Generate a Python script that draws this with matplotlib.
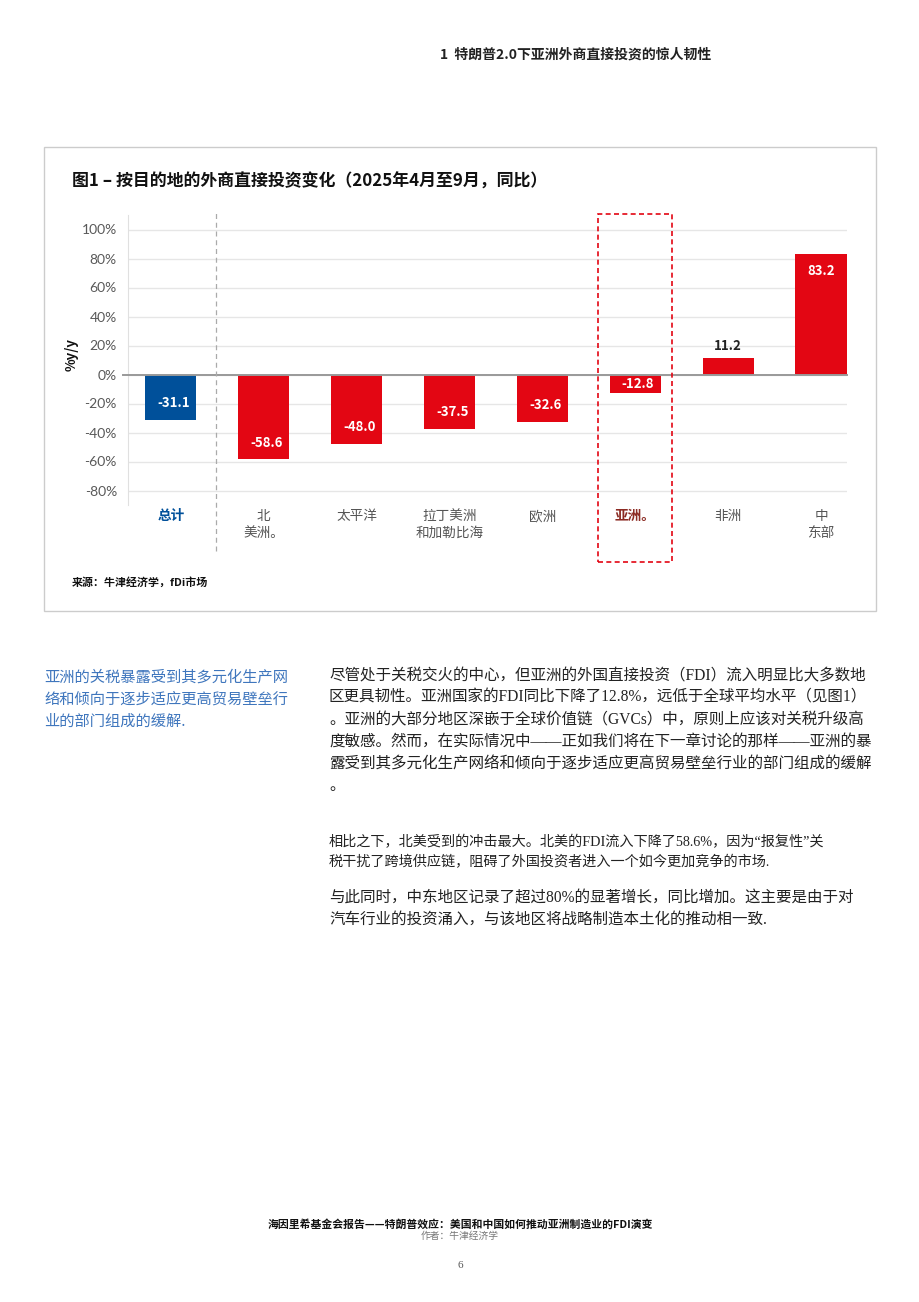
import matplotlib
matplotlib.use("Agg")
import matplotlib.pyplot as plt
from matplotlib.patches import Rectangle
from matplotlib.lines import Line2D

plt.rcParams["font.family"] = ["Noto Sans CJK SC", "DejaVu Sans"]

# Chart data
regions = ["总计", "北\n美洲。", "太平洋", "拉丁美洲\n和加勒比海", "欧洲", "亚洲。", "非洲", "中\n东部"]
fdi_change = [-31.1, -58.6, -48.0, -37.5, -32.6, -12.8, 11.2, 83.2]
y_ticks = [-80, -60, -40, -20, 0, 20, 40, 60, 80, 100]

RED = "#e30613"
BLUE = "#00509a"
DARK_RED = "#8c2b23"

W, H = 920, 1302


def fx(px):
    return px / W


def fy(py):
    return 1 - py / H


def main():
    fig = plt.figure(figsize=(W / 100, H / 100), dpi=100)

    # page header
    fig.text(fx(440), fy(55), "1  特朗普2.0下亚洲外商直接投资的惊人韧性",
             fontsize=10, weight="bold", color="#222222", va="center")

    # chart frame
    fig.patches.append(Rectangle((fx(44), fy(611)), fx(876) - fx(44), fy(147) - fy(611),
                                 transform=fig.transFigure, fill=False,
                                 edgecolor="#cccccc", linewidth=1.0))
    fig.text(fx(72), fy(182), "图1 – 按目的地的外商直接投资变化（2025年4月至9月，同比）",
             fontsize=12.2, weight="bold", color="#111111", va="center")

    ax = fig.add_axes([fx(128), fy(505), fx(847) - fx(128), fy(215) - fy(505)])
    xs = list(range(len(regions)))
    colors = [BLUE] + [RED] * (len(regions) - 1)
    ax.bar(xs, fdi_change, width=0.55, color=colors, zorder=3)

    ax.set_xlim(-0.46, 7.28)
    ax.set_ylim(-90, 110)
    ax.set_yticks(y_ticks)
    ax.set_yticklabels([f"{t}%" for t in y_ticks], fontsize=10, color="#595959",
                       family=["Lato", "DejaVu Sans"])
    ax.grid(axis="y", color="#e6e6e6", linewidth=1.0, zorder=0)
    ax.axhline(0, color="#999999", linewidth=1.4, zorder=4, xmin=-0.007, clip_on=False)
    ax.tick_params(axis="y", length=0, pad=8)
    ax.tick_params(axis="x", length=0, pad=3)
    for s in ["top", "right", "bottom"]:
        ax.spines[s].set_visible(False)
    ax.spines["left"].set_color("#e0e0e0")

    ax.set_xticks(xs)
    ax.set_xticklabels(regions, fontsize=9.8, color="#555555", linespacing=1.25, va="top")
    ticklabels = ax.get_xticklabels()
    ticklabels[0].set_color(BLUE)
    ticklabels[0].set_weight("bold")
    ticklabels[5].set_color(DARK_RED)
    ticklabels[5].set_weight("bold")

    ax.set_ylabel("%y/y", fontsize=9.5, weight="bold", color="#111111")
    ax.yaxis.set_label_coords(-0.068, 0.52)

    # value labels
    for x, v in zip(xs, fdi_change):
        if abs(v) < 20 and v < 0:
            ax.text(x + 0.03, v / 2, f"{v:.1f}", ha="center", va="center", color="white",
                    weight="bold", fontsize=9.5, zorder=5)
        elif v < 0:
            ax.annotate(f"{v:.1f}", (x, v), xytext=(2, 12), textcoords="offset points",
                        ha="center", va="center", color="white", weight="bold",
                        fontsize=9.5, zorder=5)
        elif v > 50:
            ax.annotate(f"{v:.1f}", (x, v), xytext=(0, -12), textcoords="offset points",
                        ha="center", va="center", color="white", weight="bold",
                        fontsize=9.5, zorder=5)
        else:
            ax.annotate(f"{v:.1f}", (x, v), xytext=(0, 9), textcoords="offset points",
                        ha="center", va="center", color="#222222", weight="bold",
                        fontsize=9.5, zorder=5)

    # separator after the total
    fig.lines.append(Line2D([fx(216), fx(216)], [fy(551), fy(213)], transform=fig.transFigure,
                            color="#aaaaaa", linewidth=0.9, linestyle=(0, (4, 3))))
    # highlight box around Asia
    fig.patches.append(Rectangle((fx(598), fy(562)), fx(672) - fx(598), fy(214) - fy(562),
                                 transform=fig.transFigure, fill=False, edgecolor=RED,
                                 linewidth=1.2, linestyle=(0, (3, 2))))

    fig.text(fx(72), fy(582), "来源：牛津经济学，fDi市场", fontsize=7.9, weight="bold",
             color="#111111", va="center")

    # sidebar
    side = ["亚洲的关税暴露受到其多元化生产网",
            "络和倾向于逐步适应更高贸易壁垒行",
            "业的部门组成的缓解."]
    for i, line in enumerate(side):
        fig.text(fx(44), fy(677 + 22 * i), line, fontsize=11, color="#3f76bd", va="center")

    body_font = ["Liberation Serif", "Noto Sans CJK SC"]
    para1 = ["尽管处于关税交火的中心，但亚洲的外国直接投资（FDI）流入明显比大多数地",
             "区更具韧性。亚洲国家的FDI同比下降了12.8%，远低于全球平均水平（见图1）",
             "。亚洲的大部分地区深嵌于全球价值链（GVCs）中，原则上应该对关税升级高",
             "度敏感。然而，在实际情况中——正如我们将在下一章讨论的那样——亚洲的暴",
             "露受到其多元化生产网络和倾向于逐步适应更高贸易壁垒行业的部门组成的缓解",
             "。"]
    for i, line in enumerate(para1):
        fig.text(fx(329), fy(676 + 22 * i), line, fontsize=11.2, color="#222222",
                 va="center", family=body_font)

    para2 = ["相比之下，北美受到的冲击最大。北美的FDI流入下降了58.6%，因为“报复性”关",
             "税干扰了跨境供应链，阻碍了外国投资者进入一个如今更加竞争的市场."]
    for i, line in enumerate(para2):
        fig.text(fx(329), fy(842 + 20 * i), line, fontsize=10.2, color="#222222",
                 va="center", family=body_font)

    para3 = ["与此同时，中东地区记录了超过80%的显著增长，同比增加。这主要是由于对",
             "汽车行业的投资涌入，与该地区将战略制造本土化的推动相一致."]
    for i, line in enumerate(para3):
        fig.text(fx(329), fy(898 + 22 * i), line, fontsize=11.2, color="#222222",
                 va="center", family=body_font)

    # footer
    fig.text(fx(460), fy(1224), "海因里希基金会报告——特朗普效应：美国和中国如何推动亚洲制造业的FDI演变",
             fontsize=7.8, weight="bold", color="#111111", ha="center", va="center")
    fig.text(fx(460), fy(1236), "作者：牛津经济学", fontsize=7, color="#777777",
             ha="center", va="center")
    fig.text(fx(460), fy(1266), "6", fontsize=8, color="#555555", ha="center", va="center",
             family=body_font)

    fig.savefig("out.png", dpi=100, facecolor="white")


if __name__ == "__main__":
    main()
